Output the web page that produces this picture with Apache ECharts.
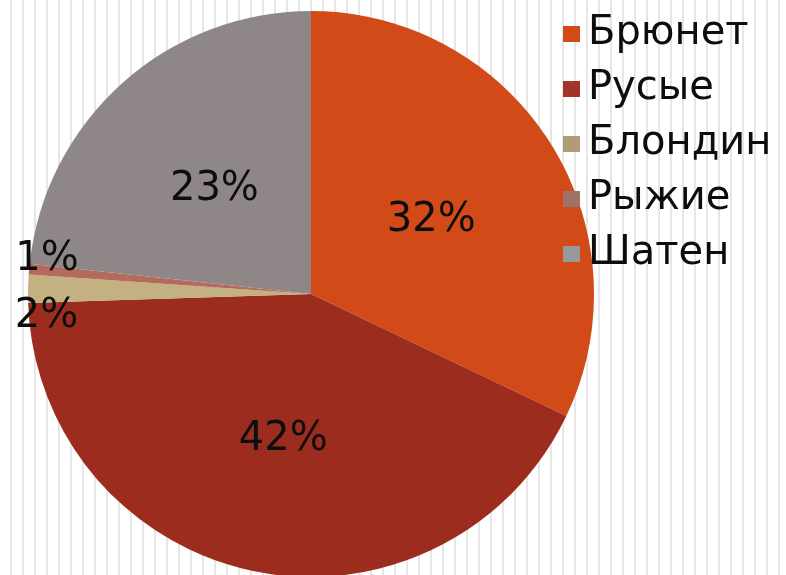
<!DOCTYPE html>
<html>
<head>
<meta charset="utf-8">
<script src="https://cdn.jsdelivr.net/npm/echarts@6/dist/echarts.min.js"></script>
<style>
  html, body { margin: 0; padding: 0; }
  body {
    width: 786px; height: 575px; overflow: hidden;
    background: repeating-linear-gradient(90deg, #ffffff 0px, #ffffff 10px, #e6e6e6 10px, #e6e6e6 12px);
  }
  #chart { width: 786px; height: 575px; }
</style>
</head>
<body>
<div id="chart"></div>
<script>
// Data (slice angles), labels rounded to whole percents
const categories = ['Брюнет', 'Русые', 'Блондин', 'Рыжие', 'Шатен'];
const values = [32.1, 42.4, 1.6, 0.6, 23.3];
const colors = ['#D24A17', '#9B2C1E', '#C4B181', '#B46A5C', '#8F8687'];
const legendColors = ['#D24A17', '#A23428', '#B29C75', '#9E7266', '#9B979A'];

// label nudges (style only)
const labelShift = { 0: [-2, 4], 1: [2, 4], 2: [-120, 25], 3: [-120, -22], 4: [0, 3] };

const chart = echarts.init(document.getElementById('chart'), null, { renderer: 'canvas' });

const data = categories.map((name, i) => ({
  name: name,
  value: values[i],
  itemStyle: { color: colors[i] }
}));

chart.setOption({
  backgroundColor: 'transparent',
  animation: false,
  legend: {
    orient: 'vertical',
    left: 558,
    top: 9,
    itemWidth: 17,
    itemHeight: 16,
    itemGap: 15,
    icon: 'rect',
    textStyle: {
      fontFamily: 'DejaVu Sans',
      fontSize: 40,
      lineHeight: 40,
      color: '#0d0d0d',
      padding: [0, 0, 0, 3]
    },
    data: categories.map((name, i) => ({ name: name, itemStyle: { color: legendColors[i] } }))
  },
  series: [{
    type: 'pie',
    center: [311, 294],
    radius: 283,
    startAngle: 90,
    clockwise: true,
    avoidLabelOverlap: false,
    label: {
      show: true,
      position: 'inside',
      fontFamily: 'DejaVu Sans',
      fontSize: 40,
      color: '#0d0d0d',
      formatter: p => Math.round(p.percent) + '%'
    },
    labelLine: { show: false },
    labelLayout: function (params) {
      const s = labelShift[params.dataIndex];
      if (s) return { dx: s[0], dy: s[1] };
      return {};
    },
    itemStyle: { borderWidth: 0 },
    emphasis: { disabled: true },
    data: data
  }]
});
</script>
</body>
</html>
